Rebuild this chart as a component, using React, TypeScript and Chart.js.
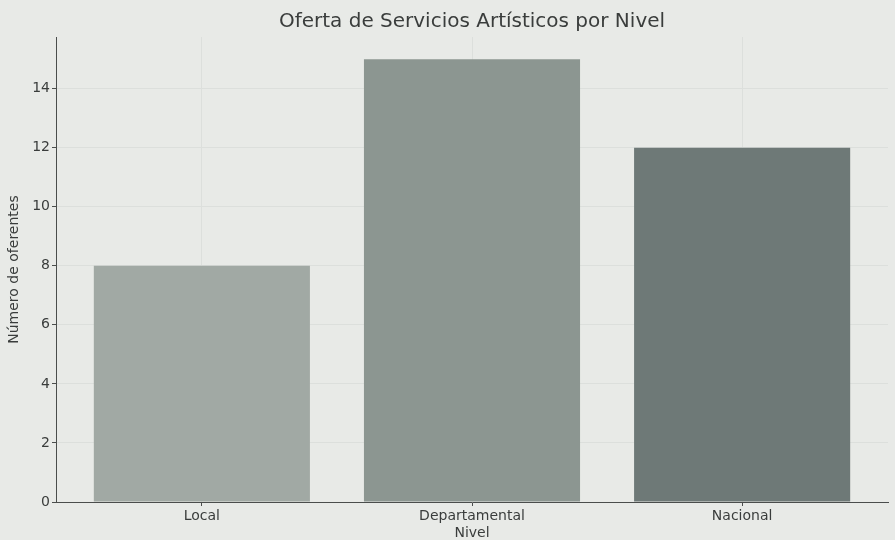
import { useEffect, useRef } from "react";
import { Chart, registerables } from "chart.js";
Chart.register(...registerables);

const categories = ["Local", "Departamental", "Nacional"];
const values = [8, 15, 12];
const yTicks = [0, 2, 4, 6, 8, 10, 12, 14];
const barColors = ["#a1a9a4", "#8c9691", "#6e7977"];
const titleText = "Oferta de Servicios Artísticos por Nivel";
const xTitle = "Nivel";
const yTitle = "Número de oferentes";

export default function App() {
  const ref = useRef<HTMLCanvasElement>(null);
  useEffect(() => {
    document.body.style.margin = "0";
    document.body.style.background = "#e8eae7";
    const font = "'DejaVu Sans', sans-serif";
    const textColor = "#3a3d3c";
    const axisColor = "#4a4d4c";
    const gridColor = "#dcdfdc";
    const chart = new Chart(ref.current!, {
      type: "bar",
      data: {
        datasets: [
          {
            data: values.map((v, i) => ({ x: i, y: v })),
            backgroundColor: barColors,
            borderWidth: 0,
            barPercentage: 0.8,
            categoryPercentage: 1,
          },
        ],
      },
      options: {
        responsive: false,
        animation: false,
        layout: { padding: { left: 0, right: 7, top: 0, bottom: 0 } },
        plugins: {
          legend: { display: false },
          tooltip: { enabled: false },
          title: {
            display: true,
            text: titleText,
            fullSize: false,
            color: textColor,
            font: { family: font, size: 20, weight: "normal", lineHeight: 1.2 },
            padding: { top: 10, bottom: 3 },
          },
        },
        scales: {
          x: {
            type: "linear",
            min: -0.54,
            max: 2.54,
            offset: false,
            afterBuildTicks: (s: any) => {
              s.ticks = categories.map((_, i) => ({ value: i }));
            },
            afterFit: (s: any) => {
              s.height = 38;
            },
            ticks: {
              callback: (v: any) => categories[v as number] ?? "",
              color: textColor,
              font: { family: font, size: 14 },
              padding: 2,
              maxRotation: 0,
              autoSkip: false,
            },
            grid: { offset: false, color: gridColor, tickColor: axisColor, tickLength: 4, lineWidth: 1 },
            border: { display: true, color: axisColor, width: 1 },
            title: {
              display: true,
              text: xTitle,
              color: textColor,
              font: { family: font, size: 14, lineHeight: 1 },
              padding: { top: 0, bottom: 0 },
            },
          },
          y: {
            min: 0,
            max: 15.75,
            afterBuildTicks: (s: any) => {
              s.ticks = yTicks.map((v) => ({ value: v }));
            },
            afterFit: (s: any) => {
              s.width = 56;
            },
            ticks: {
              color: textColor,
              font: { family: font, size: 14 },
              padding: 2,
            },
            grid: { offset: false, color: gridColor, tickColor: axisColor, tickLength: 4, lineWidth: 1 },
            border: { display: true, color: axisColor, width: 1 },
            title: {
              display: true,
              text: yTitle,
              color: textColor,
              font: { family: font, size: 14 },
              padding: { top: 6, bottom: 0 },
            },
          },
        },
      },
    });
    return () => chart.destroy();
  }, []);
  return (
    <div style={{ position: "fixed", left: 0, top: 0, width: 895, height: 540, background: "#e8eae7" }}>
      <canvas ref={ref} width={895} height={540} style={{ display: "block" }} />
    </div>
  );
}
